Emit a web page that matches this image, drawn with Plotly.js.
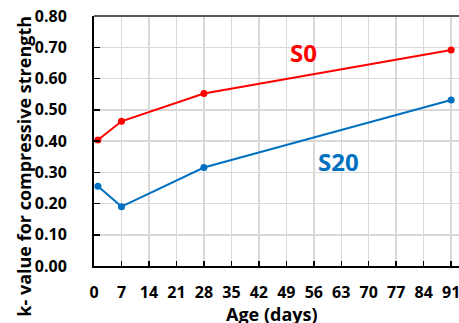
<!DOCTYPE html>
<html>
<head>
<meta charset="utf-8">
<script src="https://cdn.plot.ly/plotly-3.0.1.min.js"></script>
<style>
  html, body { margin: 0; padding: 0; background: #ffffff; }
  #chart { width: 459px; height: 323px; }
</style>
</head>
<body>
<div id="chart"></div>
<script>
// Curing age (days) and k-values for the two mixes
const ageDays = [1, 7, 28, 91];
const kS0 = [0.403, 0.463, 0.552, 0.691];
const kS20 = [0.255, 0.190, 0.315, 0.531];
const xTicks = [0, 7, 14, 21, 28, 35, 42, 49, 56, 63, 70, 77, 84, 91];
const yTicks = [0, 0.1, 0.2, 0.3, 0.4, 0.5, 0.6, 0.7, 0.8];

const FONT = '"Open Sans", "DejaVu Sans", sans-serif';
const RED = '#ff0000';
const BLUE = '#0070c0';

const traces = [
  {
    x: ageDays, y: kS0, name: 'S0', type: 'scatter', mode: 'lines+markers',
    line: { color: RED, width: 2 },
    marker: { color: RED, size: 7 }
  },
  {
    x: ageDays, y: kS20, name: 'S20', type: 'scatter', mode: 'lines+markers',
    line: { color: BLUE, width: 2 },
    marker: { color: BLUE, size: 7 }
  }
];

const layout = {
  width: 459, height: 323,
  margin: { l: 94, r: 0, t: 16, b: 57, autoexpand: false },
  paper_bgcolor: '#ffffff', plot_bgcolor: '#ffffff',
  showlegend: false,
  font: { family: FONT, color: '#000000' },
  xaxis: {
    range: [0, 93],
    tickvals: xTicks,
    ticktext: xTicks.map(String),
    tickfont: { family: FONT, size: 16, color: '#000000', weight: 'bold' },
    ticks: 'inside', ticklen: 5, tickwidth: 1.5, tickcolor: '#000000',
    showline: true, linecolor: '#000000', linewidth: 2,
    showgrid: true, gridcolor: '#d9d9d9', gridwidth: 1.5,
    zeroline: false,
    ticklabelstandoff: 11,
    ticklabeloverflow: 'allow'
  },
  yaxis: {
    range: [0, 0.8],
    tickvals: yTicks,
    ticktext: yTicks.map(v => v.toFixed(2)),
    tickfont: { family: FONT, size: 16, color: '#000000', weight: 'bold' },
    ticks: 'inside', ticklen: 6, tickwidth: 1.5, tickcolor: '#000000',
    showline: true, linecolor: '#000000', linewidth: 2,
    showgrid: true, gridcolor: '#d9d9d9', gridwidth: 1.5,
    zeroline: false,
    ticklabelstandoff: 22,
    ticklabeloverflow: 'allow'
  },
  shapes: [
    // top frame line
    { type: 'line', xref: 'paper', yref: 'paper', x0: 0, x1: 1, y0: 1, y1: 1,
      line: { color: '#595959', width: 2 } }
  ],
  annotations: [
    // axis titles
    { text: 'Age (days)', xref: 'paper', yref: 'paper',
      x: 0.489, y: -0.136, xanchor: 'center', yanchor: 'top',
      showarrow: false, font: { family: FONT, size: 18, color: '#000000', weight: 'bold' } },
    { text: 'k- value for compressive strength', xref: 'paper', yref: 'paper',
      x: -0.194, y: -0.212, xanchor: 'center', yanchor: 'bottom', textangle: -90,
      showarrow: false, font: { family: FONT, size: 18, color: '#000000', weight: 'bold' } },
    // series labels
    { text: 'S0', x: 53.4, y: 0.684, xref: 'x', yref: 'y', showarrow: false,
      font: { family: FONT, size: 24, color: RED, weight: 'bold' } },
    { text: 'S20', x: 62.2, y: 0.336, xref: 'x', yref: 'y', showarrow: false,
      font: { family: FONT, size: 24, color: BLUE, weight: 'bold' } }
  ]
};

Plotly.newPlot('chart', traces, layout, { displayModeBar: false, staticPlot: true });
</script>
</body>
</html>
